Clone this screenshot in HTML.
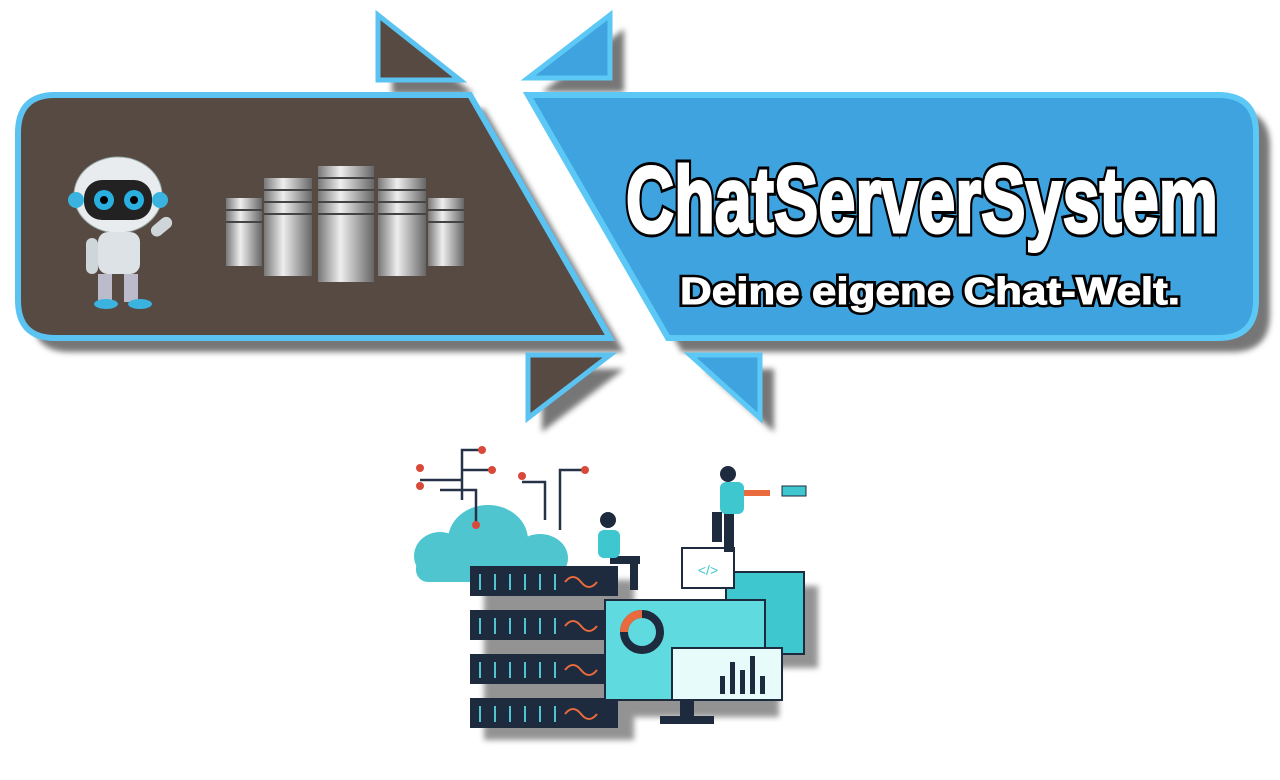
<!DOCTYPE html>
<html><head><meta charset="utf-8"><style>
html,body{margin:0;padding:0;background:#fff;width:1280px;height:780px;overflow:hidden}
svg{display:block}
.t{font-family:"Liberation Sans",sans-serif;font-weight:bold;fill:#fff;stroke:#000;paint-order:stroke}
.w{font-family:"Liberation Sans",sans-serif;font-weight:bold;fill:#fff;stroke:#fff}
</style></head><body>
<svg width="1280" height="780" viewBox="0 0 1280 780">
<defs>
<filter id="sh" x="-10%" y="-10%" width="130%" height="130%"><feGaussianBlur stdDeviation="3"/></filter>
<linearGradient id="srv" x1="0" x2="1"><stop offset="0" stop-color="#777"/><stop offset=".4" stop-color="#eee"/><stop offset="1" stop-color="#666"/></linearGradient>
</defs>
<g fill="#555" opacity=".8" filter="url(#sh)" transform="translate(14,14)">
<path d="M55,95 H470 L610,338 H55 Q18,338 18,300 V133 Q18,95 55,95Z"/>
<path d="M528,95 H1218 Q1256,95 1256,133 V300 Q1256,338 1218,338 H668Z"/>
<path d="M378,15 V80 H460Z"/><path d="M610,15 V78 H528Z"/>
<path d="M528,355 H610 L528,418Z"/><path d="M690,355 H760 V418Z"/>
</g>
<path d="M55,95 H470 L610,338 H55 Q18,338 18,300 V133 Q18,95 55,95Z" fill="#574a42" stroke="#5bc3f2" stroke-width="6"/>
<path d="M528,95 H1218 Q1256,95 1256,133 V300 Q1256,338 1218,338 H668Z" fill="#3fa3df" stroke="#5bc8f5" stroke-width="6"/>
<path d="M378,15 V80 H460Z" fill="#574a42" stroke="#5bc3f2" stroke-width="5"/>
<path d="M610,15 V78 H528Z" fill="#3fa3df" stroke="#5bc8f5" stroke-width="5"/>
<path d="M528,355 H610 L528,418Z" fill="#574a42" stroke="#5bc3f2" stroke-width="5"/>
<path d="M690,355 H760 V418Z" fill="#3fa3df" stroke="#5bc8f5" stroke-width="5"/>
<text class="t" x="922" y="232" text-anchor="middle" font-size="94" stroke-width="9" textLength="592" lengthAdjust="spacingAndGlyphs">ChatServerSystem</text>
<text class="w" x="922" y="232" text-anchor="middle" font-size="94" stroke-width="3" textLength="592" lengthAdjust="spacingAndGlyphs">ChatServerSystem</text>
<text class="t" x="930" y="304" text-anchor="middle" font-size="38" stroke-width="6" textLength="500" lengthAdjust="spacingAndGlyphs">Deine eigene Chat-Welt.</text>
<text class="w" x="930" y="304" text-anchor="middle" font-size="38" stroke-width="1" textLength="500" lengthAdjust="spacingAndGlyphs">Deine eigene Chat-Welt.</text>
<g>
<ellipse cx="118" cy="195" rx="44" ry="38" fill="#e8ecef" stroke="#9aa" />
<rect x="84" y="180" width="68" height="40" rx="18" fill="#222"/>
<circle cx="104" cy="200" r="10" fill="#2ab0e0"/><circle cx="134" cy="200" r="10" fill="#2ab0e0"/>
<circle cx="104" cy="200" r="4" fill="#000"/><circle cx="134" cy="200" r="4" fill="#000"/>
<circle cx="76" cy="200" r="8" fill="#3bb3e0"/><circle cx="160" cy="200" r="8" fill="#3bb3e0"/>
<rect x="98" y="232" width="42" height="42" rx="10" fill="#dde2e6"/>
<rect x="86" y="238" width="12" height="36" rx="6" fill="#cfd6da"/>
<rect x="150" y="222" width="24" height="12" rx="6" fill="#cfd6da" transform="rotate(-40 160 228)"/>
<rect x="98" y="274" width="14" height="28" fill="#bbc"/><rect x="124" y="274" width="14" height="28" fill="#bbc"/>
<ellipse cx="106" cy="304" rx="12" ry="5" fill="#3bb3e0"/><ellipse cx="140" cy="304" rx="12" ry="5" fill="#3bb3e0"/>
</g>
<g fill="url(#srv)">
<rect x="226" y="198" width="36" height="68"/><rect x="428" y="198" width="36" height="68"/>
<rect x="264" y="178" width="48" height="98"/><rect x="378" y="178" width="48" height="98"/>
<rect x="318" y="166" width="56" height="116"/>
</g>
<g stroke="#444" stroke-width="2">
<path d="M226,210H262M226,222H262M428,210H464M428,222H464M264,190H312M264,202H312M264,214H312M378,190H426M378,202H426M378,214H426M318,178H374M318,190H374M318,202H374M318,214H374"/>
</g>
<g fill="#666" opacity=".7" filter="url(#sh)" transform="translate(14,14)">
<rect x="470" y="566" width="150" height="160"/><rect x="605" y="598" width="160" height="105"/><rect x="726" y="572" width="78" height="82"/>
</g>
<g fill="#4fc6cf">
<ellipse cx="488" cy="540" rx="40" ry="35"/><ellipse cx="440" cy="556" rx="26" ry="24"/><ellipse cx="540" cy="558" rx="28" ry="24"/>
<rect x="416" y="556" width="150" height="26" rx="12"/>
</g>
<g stroke="#253248" stroke-width="2.5" fill="none">
<path d="M462,500V450H482M462,480H420M462,470H492M476,525V490H440M545,520V482H522M560,530V470H585"/>
</g>
<g fill="#d9493a"><circle cx="482" cy="450" r="4"/><circle cx="420" cy="468" r="4"/><circle cx="492" cy="470" r="4"/><circle cx="420" cy="486" r="4"/><circle cx="522" cy="476" r="4"/><circle cx="585" cy="470" r="4"/><circle cx="476" cy="525" r="4"/></g>
<g>
<rect x="470" y="566" width="148" height="30" fill="#1e2a3e"/>
<rect x="470" y="610" width="148" height="30" fill="#1e2a3e"/>
<rect x="470" y="654" width="148" height="30" fill="#1e2a3e"/>
<rect x="470" y="698" width="148" height="30" fill="#1e2a3e"/>
<g stroke="#4fc6cf" stroke-width="2"><path d="M480,574v16M495,574v16M510,574v16M525,574v16M540,574v16M555,574v16M480,618v16M495,618v16M510,618v16M525,618v16M540,618v16M555,618v16M480,662v16M495,662v16M510,662v16M525,662v16M540,662v16M555,662v16M480,706v16M495,706v16M510,706v16M525,706v16M540,706v16M555,706v16"/></g>
<g stroke="#e96a3c" stroke-width="2" fill="none"><path d="M565,582q8,-10 16,0t16,0M565,626q8,-10 16,0t16,0M565,670q8,-10 16,0t16,0M565,714q8,-10 16,0t16,0"/></g>
</g>
<rect x="726" y="572" width="78" height="82" fill="#3fc7cf" stroke="#1e2a3e" stroke-width="2"/>
<rect x="605" y="600" width="160" height="100" fill="#5fdbe0" stroke="#1e2a3e" stroke-width="2"/>
<circle cx="642" cy="632" r="18" fill="none" stroke="#1e2a3e" stroke-width="8"/>
<path d="M642,614a18,18 0 0 0 -18,18" stroke="#e96a3c" stroke-width="8" fill="none"/>
<rect x="672" y="648" width="110" height="52" fill="#e8fbfb" stroke="#1e2a3e" stroke-width="2"/>
<g fill="#1e2a3e"><rect x="720" y="676" width="5" height="18"/><rect x="730" y="662" width="5" height="32"/><rect x="740" y="670" width="5" height="24"/><rect x="750" y="656" width="5" height="38"/><rect x="760" y="676" width="5" height="18"/></g>
<rect x="660" y="716" width="54" height="8" fill="#1e2a3e"/><rect x="680" y="700" width="14" height="16" fill="#1e2a3e"/>
<rect x="682" y="548" width="52" height="40" fill="#fff" stroke="#1e2a3e" stroke-width="2"/>
<text x="708" y="575" text-anchor="middle" font-family="Liberation Sans,sans-serif" font-size="14" fill="#3fc7cf">&lt;/&gt;</text>
<g fill="#1e2a3e"><circle cx="728" cy="474" r="8"/><rect x="724" y="512" width="10" height="40"/><rect x="712" y="512" width="10" height="30"/><circle cx="608" cy="520" r="8"/><rect x="610" y="556" width="30" height="8"/><rect x="630" y="556" width="8" height="34"/></g>
<rect x="720" y="482" width="24" height="32" rx="6" fill="#3fc7cf"/>
<rect x="744" y="490" width="26" height="6" fill="#e96a3c"/>
<rect x="782" y="486" width="24" height="10" fill="#3fc7cf" stroke="#1e2a3e"/>
<rect x="598" y="530" width="22" height="28" rx="6" fill="#3fc7cf"/>
</svg>
</body></html>
